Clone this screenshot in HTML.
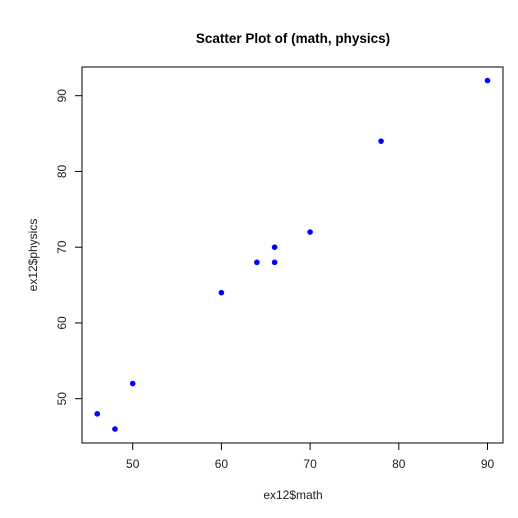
<!DOCTYPE html>
<html><head><style>body{margin:0;background:#fff}svg{display:block;font-family:"Liberation Sans",Arial,sans-serif}</style></head>
<body>
<svg id="c" width="518" height="518">
<text x="293" y="43" text-anchor="middle" font-size="13.5" font-weight="bold">Scatter Plot of (math, physics)</text>
<rect x="82" y="67" width="421" height="376" fill="none" stroke="#000" stroke-width="1"/>
<text x="293" y="499" text-anchor="middle" font-size="12" fill="#222">ex12$math</text>
<text x="0" y="0" transform="translate(37,255) rotate(-90)" text-anchor="middle" font-size="12" fill="#222">ex12$physics</text>
<g id="ax"></g><g id="pts"></g>
</svg>
<script>
const mathVals=[46,48,50,60,64,66,66,70,78,90];
const physicsVals=[48,46,52,64,68,68,70,72,84,92];
const xTicks=[50,60,70,80,90];
const yTicks=[50,60,70,80,90];
const NS="http://www.w3.org/2000/svg";
function sx(v){return 132.7+(v-50)*8.87;}
function sy(v){return 398.7-(v-50)*7.575;}
const ax=document.getElementById('ax'),pts=document.getElementById('pts');
function mk(t,a,p){const e=document.createElementNS(NS,t);for(const k in a)e.setAttribute(k,a[k]);p.appendChild(e);return e;}
xTicks.forEach(v=>{
const l=mk('line',{x1:sx(v),x2:sx(v),y1:443,y2:450,stroke:'#000'},ax);


const t=mk('text',{x:sx(v),y:468,'text-anchor':'middle','font-size':12,fill:'#222'},ax);t.textContent=v;


});
yTicks.forEach(v=>{
const l=mk('line',{x1:75,x2:82,y1:sy(v),y2:sy(v),stroke:'#000'},ax);


const t=mk('text',{x:0,y:0,transform:`translate(66,${sy(v)}) rotate(-90)`,'text-anchor':'middle','font-size':12,fill:'#222'},ax);t.textContent=v;


});
mathVals.forEach((m,i)=>{
const c=mk('circle',{cx:sx(m),cy:sy(physicsVals[i]),r:2.8,fill:'#0000ff'},pts);


});
</script>
</body></html>
